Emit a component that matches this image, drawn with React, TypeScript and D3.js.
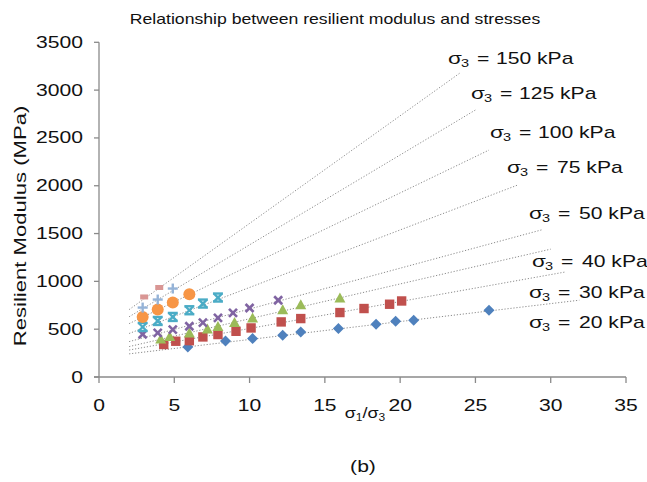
import React from "react";
import * as d3 from "d3";

// stress levels (sigma 3, kPa)
const levels = ["20", "30", "40", "50", "75", "100", "125", "150"];
const colors = ["#4F81BD", "#C0504D", "#9BBB59", "#8064A2", "#4BACC6", "#F79646", "#95B3D7", "#D99694"];
const markers = ["diamond", "square", "triangle", "x", "star", "circle", "plus", "dash"];

// sigma1/sigma3 and resilient modulus (MPa) per level
const ratio20 = [5.9, 8.4, 10.2, 12.2, 13.4, 15.9, 18.4, 19.7, 20.9, 25.9];
const mr20 = [314, 377, 402, 437, 471, 506, 552, 583, 593, 697];
const ratio30 = [4.3, 5.1, 6.0, 6.9, 7.9, 9.1, 10.1, 12.1, 13.4, 16.0, 17.6, 19.3, 20.1];
const mr30 = [340, 374, 380, 419, 444, 478, 513, 576, 611, 674, 716, 761, 795];
const ratio40 = [4.1, 4.7, 6.0, 7.2, 7.9, 9.0, 10.2, 12.2, 13.4, 16.0];
const mr40 = [391, 419, 454, 496, 523, 565, 611, 698, 750, 820];
const ratio50 = [2.9, 3.9, 4.9, 6.0, 6.9, 7.9, 8.9, 10.0, 11.9];
const mr50 = [447, 461, 496, 531, 569, 618, 670, 722, 803];
const ratio75 = [2.9, 3.9, 4.9, 6.0, 6.9, 7.9];
const mr75 = [523, 586, 628, 698, 768, 831];
const ratio100 = [2.9, 3.9, 4.9, 6.0];
const mr100 = [628, 705, 779, 866];
const ratio125 = [2.9, 3.9, 4.9];
const mr125 = [726, 810, 925];
const ratio150 = [3.0, 4.0];
const mr150 = [837, 936];

const ratios = [ratio20, ratio30, ratio40, ratio50, ratio75, ratio100, ratio125, ratio150];
const moduli = [mr20, mr30, mr40, mr50, mr75, mr100, mr125, mr150];

// linear trend lines (start / end)
const trendX0 = [2, 2, 2, 2, 2, 2, 2, 2];
const trendY0 = [242, 282, 318, 370, 455, 558, 630, 705];
const trendX1 = [31.9, 31.0, 30.0, 29.5, 27.8, 25.9, 25.0, 24.0];
const trendY1 = [803, 1099, 1337, 1543, 2007, 2373, 2792, 3182];

const xTicks = [0, 5, 10, 15, 20, 25, 30, 35];
const yTicks = [0, 500, 1000, 1500, 2000, 2500, 3000, 3500];

// label layout (px)
const labelLeft = [529, 529, 532, 529, 507, 490, 471, 448];
const labelMid = [322, 292, 261, 213, 167, 132, 93, 58];

const W = 647;
const H = 482;
const SX = 1.32; // horizontal stretch of the original text
const FONT = "'Liberation Sans', Arial, sans-serif";

function Txt({ x, y, size, anchor = "start", children, fill = "#111", rotate = 0, sx = SX }: any) {
  const t = rotate
    ? `translate(${x},${y}) rotate(${rotate}) scale(${sx},1)`
    : `translate(${x},${y}) scale(${sx},1)`;
  return (
    <text transform={t} fontSize={size} textAnchor={anchor} fill={fill} fontFamily={FONT} dominantBaseline="central">
      {children}
    </text>
  );
}

function Marker({ type, color, cx, cy }: any) {
  switch (type) {
    case "diamond":
      return <path d={`M${cx},${cy - 5.5}L${cx + 5.5},${cy}L${cx},${cy + 5.5}L${cx - 5.5},${cy}Z`} fill={color} />;
    case "square":
      return <rect x={cx - 4.7} y={cy - 4.7} width={9.4} height={9.4} fill={color} />;
    case "triangle":
      return <path d={`M${cx},${cy - 6}L${cx + 5.5},${cy + 4}L${cx - 5.5},${cy + 4}Z`} fill={color} />;
    case "x":
      return (
        <g stroke={color} strokeWidth={2.6}>
          <line x1={cx - 4} y1={cy - 4} x2={cx + 4} y2={cy + 4} />
          <line x1={cx - 4} y1={cy + 4} x2={cx + 4} y2={cy - 4} />
        </g>
      );
    case "star":
      return (
        <g stroke={color} strokeWidth={2.4}>
          <line x1={cx - 4} y1={cy - 4} x2={cx + 4} y2={cy + 4} />
          <line x1={cx - 4} y1={cy + 4} x2={cx + 4} y2={cy - 4} />
          <line x1={cx - 5} y1={cy - 4} x2={cx + 5} y2={cy - 4} />
          <line x1={cx - 5} y1={cy + 4} x2={cx + 5} y2={cy + 4} />
        </g>
      );
    case "circle":
      return <circle cx={cx} cy={cy} r={6} fill={color} />;
    case "plus":
      return (
        <g stroke={color} strokeWidth={2.4}>
          <line x1={cx - 5} y1={cy} x2={cx + 5} y2={cy} />
          <line x1={cx} y1={cy - 5} x2={cx} y2={cy + 5} />
        </g>
      );
    default:
      return <rect x={cx - 4} y={cy - 2.5} width={8} height={5} fill={color} />;
  }
}

export default function App() {
  const x = d3.scaleLinear().domain([0, 35]).range([99, 626]);
  const y = d3.scaleLinear().domain([0, 3500]).range([377, 42.3]);
  const axisColor = "#8a8a8a";

  return (
    <svg width={W} height={H} style={{ position: "absolute", left: 0, top: 0, background: "#fff" }}>
      <rect width={W} height={H} fill="#fff" />
      <Txt x={335} y={19} size={14} anchor="middle" sx={1.26}>
        Relationship between resilient modulus and stresses
      </Txt>

      {/* trend lines */}
      {levels.map((lv, i) => (
        <line
          key={"t" + lv}
          x1={x(trendX0[i])}
          y1={y(trendY0[i])}
          x2={x(trendX1[i])}
          y2={y(trendY1[i])}
          stroke="#8c8c8c"
          strokeWidth={1}
          strokeDasharray="1.2,1.8"
        />
      ))}

      {/* axes */}
      <line x1={x(0)} y1={y(3500)} x2={x(0)} y2={y(0)} stroke={axisColor} strokeWidth={1.3} />
      <line x1={x(0) - 5} y1={y(0)} x2={x(35)} y2={y(0)} stroke={axisColor} strokeWidth={1.3} />
      {yTicks.map((t) => (
        <g key={"y" + t}>
          <line x1={x(0) - 5} x2={x(0)} y1={y(t)} y2={y(t)} stroke={axisColor} strokeWidth={1.3} />
          <Txt x={83} y={y(t)} size={16} anchor="end">{t}</Txt>
        </g>
      ))}
      {xTicks.map((t) => (
        <g key={"x" + t}>
          <line x1={x(t)} x2={x(t)} y1={y(0)} y2={y(0) + 6} stroke={axisColor} strokeWidth={1.3} />
          <Txt x={x(t)} y={405} size={16} anchor="middle">{t}</Txt>
        </g>
      ))}

      {/* points */}
      {levels.map((lv, i) => (
        <g key={"p" + lv}>
          {ratios[i].map((r, j) => (
            <Marker key={j} type={markers[i]} color={colors[i]} cx={x(r)} cy={y(moduli[i][j])} />
          ))}
        </g>
      ))}

      {/* level labels */}
      {levels.map((lv, i) => {
        const lx = labelLeft[i];
        const ly = labelMid[i];
        return (
          <g key={"l" + lv}>
            <Txt x={lx} y={ly} size={17}>σ</Txt>
            <Txt x={lx + 13} y={ly + 5} size={11}>3</Txt>
            <Txt x={lx + 29} y={ly} size={16}>=</Txt>
            <Txt x={lx + (lv.length > 2 ? 48 : 50)} y={ly} size={16}>{lv + " kPa"}</Txt>
          </g>
        );
      })}

      {/* axis titles */}
      <Txt x={20} y={226} size={17} anchor="middle" rotate={-90} sx={1.3}>
        Resilient Modulus (MPa)
      </Txt>
      <text
        transform="translate(365,413) scale(1.2,1)"
        fontSize={15}
        textAnchor="middle"
        fill="#111"
        fontFamily={FONT}
        dominantBaseline="central"
      >
        σ<tspan fontSize={10} dy={4}>1</tspan>
        <tspan dy={-4}>/σ</tspan>
        <tspan fontSize={10} dy={4}>3</tspan>
      </text>
      <Txt x={363} y={466} size={16} anchor="middle">(b)</Txt>
    </svg>
  );
}
